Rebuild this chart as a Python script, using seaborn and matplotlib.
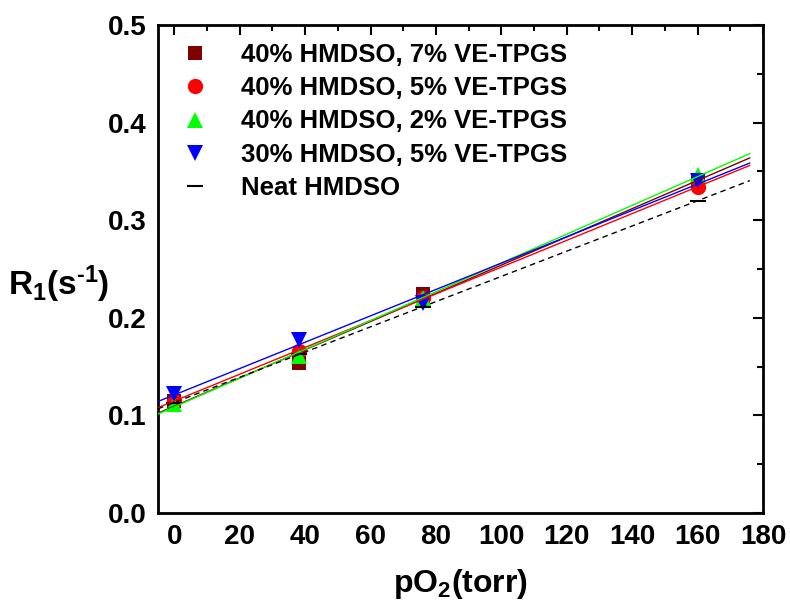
import numpy as np
import pandas as pd
import matplotlib
matplotlib.use("Agg")
import matplotlib.pyplot as plt
from matplotlib.ticker import MultipleLocator, FormatStrFormatter
import seaborn as sns

# Oxygen partial pressure (torr) and measured R1 (1/s) for each emulsion
po2 = [0, 38, 76, 160]
r1_40_7 = [0.115, 0.154, 0.224, 0.341]
r1_40_5 = [0.115, 0.166, 0.220, 0.334]
r1_40_2 = [0.112, 0.161, 0.220, 0.346]
r1_30_5 = [0.122, 0.177, 0.215, 0.340]
r1_neat = [0.113, 0.163, 0.211, 0.320]

labels = ["40% HMDSO, 7% VE-TPGS", "40% HMDSO, 5% VE-TPGS",
          "40% HMDSO, 2% VE-TPGS", "30% HMDSO, 5% VE-TPGS", "Neat HMDSO"]
series = [r1_40_7, r1_40_5, r1_40_2, r1_30_5, r1_neat]
colors = ["#800000", "#FF0000", "#00FF00", "#0000FF", "#000000"]
markers = ["s", "o", "^", "v", "_"]
sizes = [10, 11, 12, 12, 12]

df = pd.concat([pd.DataFrame({"pO2": po2, "R1": vals, "sample": lab})
                for lab, vals in zip(labels, series)], ignore_index=True)

sns.set_theme(style="white")
plt.rcParams["font.family"] = ["Liberation Sans", "DejaVu Sans"]
plt.rcParams["font.weight"] = "bold"
plt.rcParams["text.color"] = "black"
plt.rcParams["axes.labelcolor"] = "black"
plt.rcParams["xtick.color"] = "black"
plt.rcParams["ytick.color"] = "black"
plt.rcParams["mathtext.fontset"] = "custom"
plt.rcParams["mathtext.rm"] = "Liberation Sans:bold"
plt.rcParams["mathtext.bf"] = "Liberation Sans:bold"
plt.rcParams["mathtext.it"] = "Liberation Sans:bold"

fig = plt.figure(figsize=(7.9, 6.1), dpi=100)
ax = fig.add_axes([0.2, 0.159, 0.7658, 0.8])

# Linear fits drawn over the full range
xfit = np.linspace(-5, 176, 50)
for lab, col in zip(labels, colors):
    sub = df[df["sample"] == lab]
    k, b = np.polyfit(sub["pO2"], sub["R1"], 1)
    if lab == "Neat HMDSO":
        ax.plot(xfit, k * xfit + b, color=col, lw=1.0, ls="--",
                dashes=(4, 3), zorder=4)
    else:
        ax.plot(xfit, k * xfit + b, color=col, lw=1.0, zorder=4)

# Measured points
for lab, col, mk, ms in zip(labels, colors, markers, sizes):
    sub = df[df["sample"] == lab]
    sns.lineplot(x=sub["pO2"].values, y=sub["R1"].values, ax=ax,
                 ls="none", marker=mk, ms=ms, color=col,
                 mew=1.5 if mk == "_" else 0, mec=col,
                 label=lab, zorder=3, errorbar=None, sort=False)

ax.set_xlim(-5, 180)
ax.set_ylim(0, 0.5)
ax.xaxis.set_major_locator(MultipleLocator(20))
ax.xaxis.set_minor_locator(MultipleLocator(10))
ax.yaxis.set_major_locator(MultipleLocator(0.1))
ax.yaxis.set_minor_locator(MultipleLocator(0.05))
ax.yaxis.set_major_formatter(FormatStrFormatter("%.1f"))
ax.tick_params(which="both", direction="in", top=True, right=True,
               width=1.5, labelsize=20, pad=8, colors="black")
ax.tick_params(which="major", length=7)
ax.tick_params(which="minor", length=4)
for lbl in ax.get_xticklabels() + ax.get_yticklabels():
    lbl.set_fontweight("bold")
for sp in ax.spines.values():
    sp.set_linewidth(2)
    sp.set_color("black")

ax.set_xlabel(r"pO$_2$(torr)", fontsize=23, fontweight="bold", labelpad=12,
              color="black")
ax.set_ylabel(r"R$_1$(s$^{\text{-1}}$)", fontsize=24, fontweight="bold",
              rotation=0, va="center", ha="center", color="black")
ax.yaxis.set_label_coords(-0.165, 0.468)

leg = ax.legend(loc="upper left", frameon=False,
                prop={"weight": "bold", "size": 18.5}, handlelength=1.0,
                handletextpad=1.3, labelspacing=0.36, borderaxespad=0.3,
                bbox_to_anchor=(0.01, 1.0))
for t in leg.get_texts():
    t.set_color("black")

fig.savefig("out.png", dpi=100)
